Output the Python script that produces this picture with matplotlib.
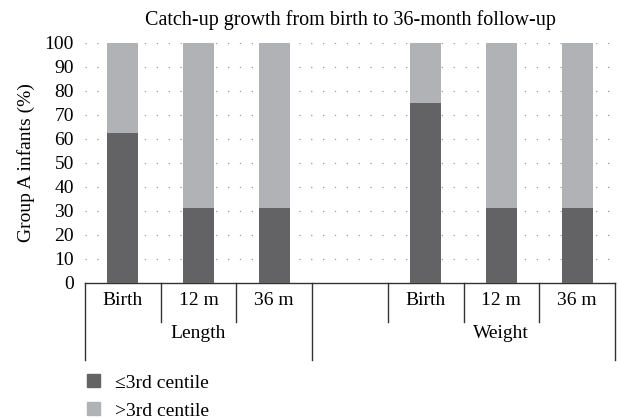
import numpy as np
import matplotlib
matplotlib.use('Agg')
import matplotlib.pyplot as plt
from matplotlib.patches import Patch
import matplotlib.transforms as mtransforms

# ===== DATA =====
slot_labels = ['Birth', '12 m', '36 m', '', 'Birth', '12 m', '36 m']
low_pct = [62.5, 31.25, 31.25, np.nan, 75.0, 31.25, 31.25]     # <=3rd centile
high_pct = [37.5, 68.75, 68.75, np.nan, 25.0, 68.75, 68.75]    # >3rd centile
groups = ['Length', 'Weight']
group_centers = [1, 5]
group_edges = [-0.5, 2.5, 6.5]
yticks = list(range(0, 101, 10))

DARK = '#636365'
LIGHT = '#b1b2b5'

plt.rcParams['font.family'] = ['Liberation Serif', 'DejaVu Serif']
plt.rcParams['font.size'] = 14

# ===== PLOT =====
fig = plt.figure(figsize=(6.18, 4.19), dpi=100)
ax = fig.add_axes([0.1375, 0.3246, 0.8576, 0.5728])

x = np.arange(len(slot_labels))
w = 0.41
ax.bar(x, low_pct, width=w, color=DARK, zorder=3)
ax.bar(x, high_pct, width=w, bottom=low_pct, color=LIGHT, zorder=3)

ax.set_xlim(-0.5, len(slot_labels) - 0.5)
ax.set_ylim(0, 100)
ax.set_yticks(yticks)
ax.set_xticks([])
ax.tick_params(axis='y', length=0, pad=8)
for s in ['left', 'top', 'right']:
    ax.spines[s].set_visible(False)
ax.spines['bottom'].set_linewidth(1.0)
ax.spines['bottom'].set_color('#333333')
for t in yticks[1:]:
    ax.axhline(t, color='#9a9a9a', lw=0.9, ls=(0, (1, 8.5)), zorder=1)

ax.set_title('Catch-up growth from birth to 36-month follow-up', pad=13, fontsize=14.5)
ax.set_ylabel('Group A infants (%)', labelpad=7)

# ===== CATEGORY TABLE UNDER AXIS =====
trans = mtransforms.blended_transform_factory(ax.transData, ax.transAxes)
row1 = -0.161
row2 = -0.32
for i, lab in enumerate(slot_labels):
    ax.text(x[i], -0.075, lab, transform=trans, ha='center', va='center')
for b in np.arange(0.5, len(slot_labels) - 1, 1.0):
    if b in group_edges:
        continue
    ax.plot([b, b], [0, row1], transform=trans, color='#333333', lw=1.0, clip_on=False)
for b in group_edges:
    ax.plot([b, b], [0, row2], transform=trans, color='#333333', lw=1.0, clip_on=False)
for g, c in zip(groups, group_centers):
    ax.text(c, -0.212, g, transform=trans, ha='center', va='center')

handles = [Patch(color=DARK, label='≤3rd centile'), Patch(color=LIGHT, label='>3rd centile')]
fig.legend(handles=handles, loc='upper left', bbox_to_anchor=(0.128, 0.125),
           frameon=False, handlelength=0.65, handleheight=0.65, handletextpad=0.8,
           labelspacing=0.55, borderaxespad=0)

fig.savefig('out.png', dpi=100)
